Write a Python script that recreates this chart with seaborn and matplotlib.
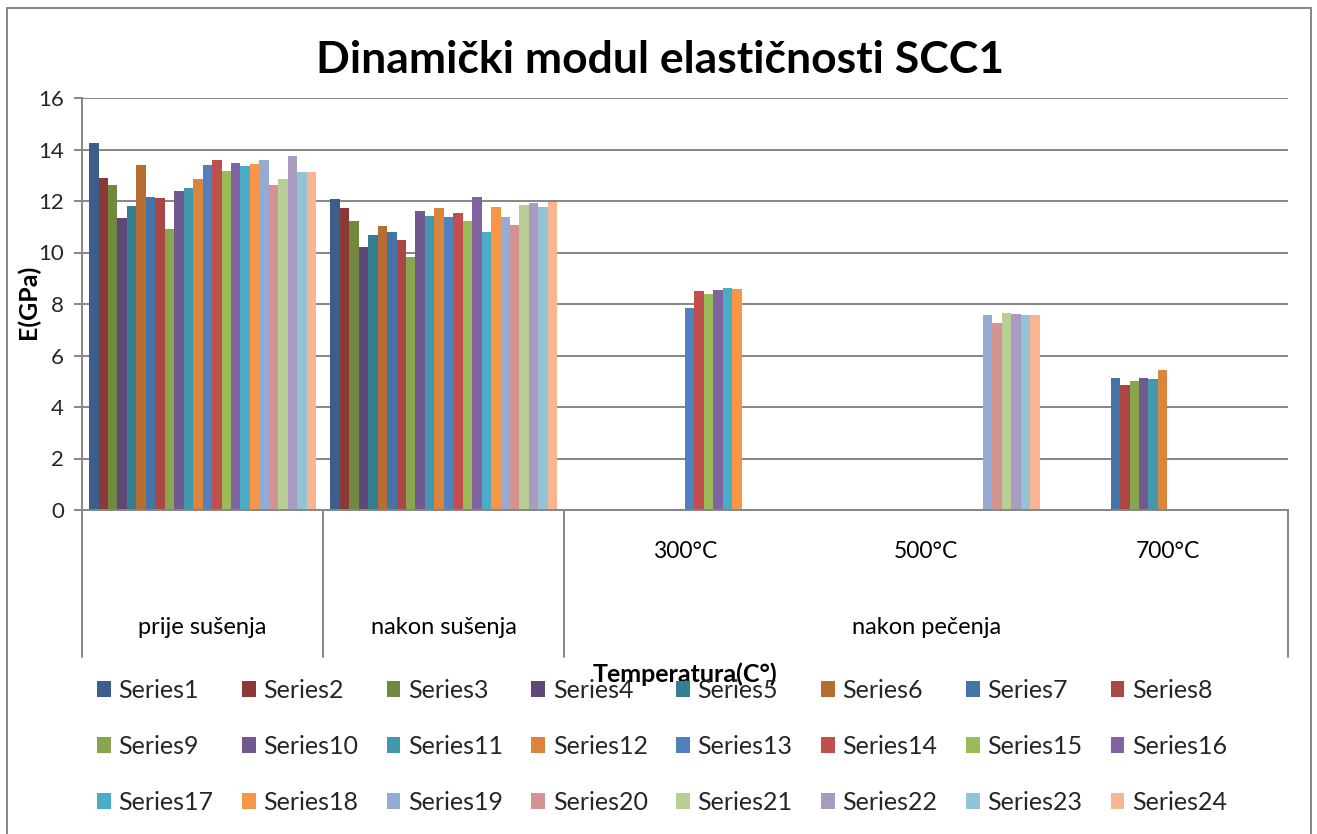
import numpy as np
import pandas as pd
import seaborn as sns
import matplotlib
matplotlib.use("Agg")
import matplotlib.pyplot as plt
from matplotlib.patches import Patch, Rectangle

# ---------------- data ----------------
groups = ["prije sušenja", "nakon sušenja", "300°C", "500°C", "700°C"]
level1_labels = ["", "", "300°C", "500°C", "700°C"]
level2_labels = ["prije sušenja", "nakon sušenja", "nakon pečenja"]
series = [f"Series{i}" for i in range(1, 25)]

prije_susenja = [14.24, 12.91, 12.62, 11.35, 11.81, 13.40, 12.16, 12.10, 10.92, 12.39, 12.49, 12.85,
                 13.39, 13.59, 13.17, 13.46, 13.37, 13.42, 13.58, 12.61, 12.84, 13.75, 13.11, 13.14]
nakon_susenja = [12.08, 11.72, 11.22, 10.20, 10.68, 11.02, 10.80, 10.49, 9.84, 11.62, 11.40, 11.72,
                 11.38, 11.55, 11.21, 12.14, 10.80, 11.78, 11.39, 11.07, 11.84, 11.92, 11.77, 11.97]
t300_series = ["Series13", "Series14", "Series15", "Series16", "Series17", "Series18"]
t300_values = [7.86, 8.52, 8.39, 8.56, 8.61, 8.57]
t500_series = ["Series19", "Series20", "Series21", "Series22", "Series23", "Series24"]
t500_values = [7.59, 7.25, 7.64, 7.62, 7.57, 7.57]
t700_series = ["Series7", "Series8", "Series9", "Series10", "Series11", "Series12"]
t700_values = [5.14, 4.84, 5.01, 5.11, 5.09, 5.44]

colors = ["#3B5E8C", "#8C3836", "#71893F", "#5E4878", "#357D91", "#B66D31",
          "#4572A7", "#AA4643", "#89A54E", "#71588F", "#4198AF", "#DB843D",
          "#4F81BD", "#C0504D", "#9BBB59", "#8064A2", "#4BACC6", "#F79646",
          "#95ABD3", "#D39391", "#B9CE95", "#A99BBF", "#93C3D5", "#F9B590"]

rows = []
for s, v in zip(series, prije_susenja):
    rows.append((groups[0], s, v))
for s, v in zip(series, nakon_susenja):
    rows.append((groups[1], s, v))
for s, v in zip(t300_series, t300_values):
    rows.append((groups[2], s, v))
for s, v in zip(t500_series, t500_values):
    rows.append((groups[3], s, v))
for s, v in zip(t700_series, t700_values):
    rows.append((groups[4], s, v))
df = pd.DataFrame(rows, columns=["grupa", "serija", "E"])

# ---------------- figure ----------------
sns.set_theme(style="white")
FONT = ["Lato", "DejaVu Sans"]
plt.rcParams["font.family"] = FONT

W, H = 1317, 834
fig = plt.figure(figsize=(W / 100, H / 100), dpi=100)

def fx(px):
    return px / W

def fy(py):
    return 1 - py / H

ax_left, ax_right, ax_top, ax_bottom = 82, 1288, 98, 510
ax = fig.add_axes([fx(ax_left), fy(ax_bottom), fx(ax_right - ax_left), (ax_bottom - ax_top) / H])

sns.barplot(data=df, x="grupa", y="E", hue="serija", order=groups, hue_order=series,
            palette=colors, width=24 / 25.5, dodge=True, saturation=1, legend=False,
            linewidth=0, errorbar=None, ax=ax)

grid_c = "#868686"
ax.set_xlim(-0.5, 4.5)
ax.set_ylim(0, 16)
ax.set_yticks(np.arange(0, 17, 2))
ax.yaxis.grid(True, color=grid_c, linewidth=1.4)
ax.set_axisbelow(True)
for sp in ["top", "right"]:
    ax.spines[sp].set_visible(False)
ax.spines["left"].set_color(grid_c)
ax.spines["left"].set_linewidth(1.4)
ax.spines["bottom"].set_color(grid_c)
ax.spines["bottom"].set_linewidth(1.4)
ax.tick_params(axis="y", which="major", direction="out", length=6, width=1.4, color=grid_c,
               labelsize=16, pad=7, left=True)
ax.set_xticks([])
ax.set_xlabel("")
ax.set_ylabel("")
for lab in ax.get_yticklabels():
    lab.set_family(FONT)

# category dividers below axis
trans = ax.get_xaxis_transform()
ybot = -(657 - ax_bottom) / (ax_bottom - ax_top)
for xb in [-0.5, 0.5, 1.5, 4.5]:
    ax.plot([xb, xb], [0, ybot], color=grid_c, linewidth=1.4, transform=trans, clip_on=False)

# level 1 and level 2 labels
for i, lab in enumerate(level1_labels):
    if lab:
        ax.text(i, -(552 - ax_bottom) / (ax_bottom - ax_top), lab, transform=trans,
                ha="center", va="center", fontsize=16.5, color="black")
lvl2_pos = [0, 1, 3]
for p, lab in zip(lvl2_pos, level2_labels):
    ax.text(p, -(627 - ax_bottom) / (ax_bottom - ax_top), lab, transform=trans,
            ha="center", va="center", fontsize=17, color="black")

# titles
fig.text(fx(660), fy(60), "Dinamički modul elastičnosti SCC1", ha="center", va="center",
         fontsize=32, fontweight="bold", color="black")
fig.text(fx(28), fy(302), "E(GPa)", ha="center", va="center", rotation=90,
         fontsize=18, fontweight="bold", color="black")
fig.text(fx(685), fy(674), "Temperatura(C°)", ha="center", va="center",
         fontsize=18, fontweight="bold", color="black")

# legend: 8 columns x 3 rows
col_x = [97 + 144.8 * j for j in range(8)]
for j in range(8):
    idx = [j, j + 8, j + 16]
    handles = [Patch(facecolor=colors[k], edgecolor="none") for k in idx]
    labels = [series[k] for k in idx]
    fig.legend(handles, labels, loc="center left", bbox_to_anchor=(fx(col_x[j]), fy(746.5)),
               frameon=False, borderpad=0, borderaxespad=0,
               handlelength=0.55, handleheight=0.6, handletextpad=0.3,
               labelspacing=1.32, prop={"family": FONT, "size": 18})

# outer chart border
fig.add_artist(Rectangle((fx(7), fy(840)), fx(1311 - 7), (840 - 8) / H, transform=fig.transFigure,
                         fill=False, edgecolor=grid_c, linewidth=1.4, clip_on=False))

fig.savefig("out.png", dpi=100)
